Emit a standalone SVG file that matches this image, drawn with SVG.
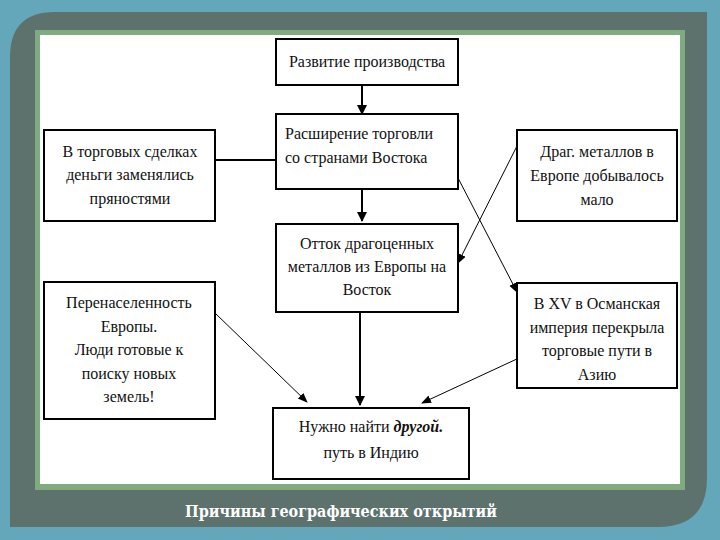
<svg xmlns="http://www.w3.org/2000/svg" width="720" height="540" viewBox="0 0 720 540">
<defs>
<style>
.box{fill:#fff;stroke:#000;stroke-width:2}
.t{font-family:'Liberation Serif','Times New Roman',serif;font-size:16px;fill:#111;text-anchor:middle}
.thick{stroke:#000;stroke-width:2;fill:none}
.thin{stroke:#000;stroke-width:1;fill:none}
.cap{font-family:'DejaVu Serif Condensed','DejaVu Serif',serif;font-size:16px;font-weight:bold;fill:#fff;text-anchor:middle}
</style>
<marker id="ah" markerWidth="10" markerHeight="10" refX="9" refY="5" orient="auto" markerUnits="userSpaceOnUse">
<path d="M0,0 L10,5 L0,10 Z" fill="#000"/>
</marker>
<marker id="ahs" markerWidth="10" markerHeight="10" refX="9" refY="5" orient="auto" markerUnits="userSpaceOnUse">
<path d="M0,1 L10,5 L0,9 Z" fill="#000"/>
</marker>
</defs>
<rect width="720" height="540" fill="#64a7bb"/>
<path d="M10,57 Q10,12 55,12 L707,12 L707,478 Q707,527 658,527 L10,527 Z" fill="#5e726d"/>
<rect x="35" y="30" width="650" height="460" fill="#7fab7f"/>
<rect x="40" y="35" width="640" height="449" fill="#fff"/>
<text class="cap" x="341" y="517">Причины географических открытий</text>

<g id="connectors">
<line class="thick" x1="362" y1="86" x2="362" y2="114" marker-end="url(#ah)"/>
<line class="thick" x1="362" y1="190" x2="362" y2="221" marker-end="url(#ah)"/>
<line class="thick" x1="215" y1="160" x2="275" y2="160"/>
<line class="thick" x1="360" y1="312" x2="360" y2="405" marker-end="url(#ah)"/>
<line class="thin" x1="216" y1="314" x2="307" y2="402" marker-end="url(#ahs)"/>
<line class="thin" x1="519" y1="358" x2="422" y2="403" marker-end="url(#ahs)"/>
<line class="thin" x1="457" y1="176" x2="517" y2="292" marker-end="url(#ahs)"/>
<line class="thin" x1="517" y1="146" x2="458" y2="263" marker-end="url(#ahs)"/>
</g>

<g id="n1"><rect class="box" x="276" y="39" width="182" height="46"/>
<text class="t" x="367" y="67">Развитие производства</text></g>

<g id="n2"><rect class="box" x="276" y="114" width="182" height="75"/>
<text class="t" x="285" y="139" style="text-anchor:start">Расширение торговли</text>
<text class="t" x="285" y="163" style="text-anchor:start">со странами Востока</text></g>

<g id="n3"><rect class="box" x="276" y="224" width="182" height="88"/>
<text class="t" x="367" y="249">Отток драгоценных</text>
<text class="t" x="367" y="272">металлов из Европы на</text>
<text class="t" x="367" y="295">Восток</text></g>

<g id="n4"><rect class="box" x="44" y="130" width="171" height="91"/>
<text class="t" x="130" y="157">В торговых сделках</text>
<text class="t" x="130" y="180">деньги заменялись</text>
<text class="t" x="130" y="204">пряностями</text></g>

<g id="n5"><rect class="box" x="44" y="282" width="171" height="137"/>
<text class="t" x="129" y="308">Перенаселенность</text>
<text class="t" x="129" y="332">Европы.</text>
<text class="t" x="129" y="355">Люди готовые к</text>
<text class="t" x="129" y="379">поиску новых</text>
<text class="t" x="129" y="402">земель!</text></g>

<g id="n6"><rect class="box" x="517" y="130" width="160" height="91"/>
<text class="t" x="597" y="157">Драг. металлов в</text>
<text class="t" x="597" y="181">Европе добывалось</text>
<text class="t" x="597" y="205">мало</text></g>

<g id="n7"><rect class="box" x="517" y="283" width="160" height="105"/>
<text class="t" x="597" y="309">В XV в Османская</text>
<text class="t" x="597" y="333">империя перекрыла</text>
<text class="t" x="597" y="356">торговые пути в</text>
<text class="t" x="597" y="380">Азию</text></g>

<g id="n8"><rect class="box" x="273" y="408" width="196" height="71"/>
<text class="t" x="371" y="432">Нужно найти <tspan font-weight="bold" font-style="italic">другой.</tspan></text>
<text class="t" x="371" y="458">путь в Индию</text></g>
</svg>
